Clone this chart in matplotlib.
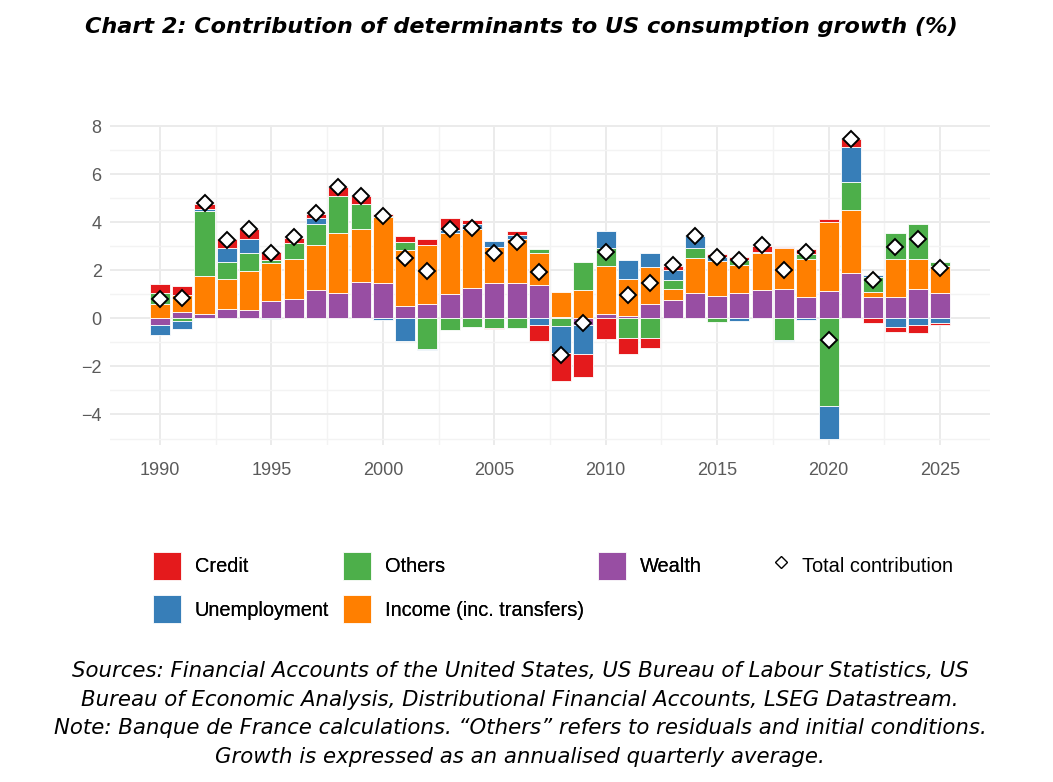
import matplotlib.pyplot as plt
import numpy as np
from matplotlib.patches import Patch
from matplotlib.lines import Line2D

years = np.arange(1990, 2026)

wealth = [-0.28, 0.28, 0.17, 0.38, 0.35, 0.74, 0.82, 1.19, 1.07, 1.53,
          1.46, 0.51, 0.58, 1.03, 1.26, 1.46, 1.46, 1.40, 0.07, -0.28,
          0.17, 0.10, 0.58, 0.76, 1.04, 0.93, 1.06, 1.18, 1.22, 0.89,
          1.13, 1.88, 0.89, 0.88, 1.22, 1.04]
income = [0.60, 0.69, 1.58, 1.24, 1.61, 1.57, 1.64, 1.86, 2.47, 2.18,
          2.74, 2.35, 2.49, 2.54, 2.47, 1.51, 1.83, 1.33, 1.01, 1.20,
          2.01, 1.54, 1.58, 0.47, 1.47, 1.44, 1.18, 1.53, 1.71, 1.57,
          2.88, 2.65, 0.21, 1.58, 1.24, 1.14]
others = [0.45, -0.11, 2.71, 0.74, 0.78, 0.14, 0.68, 0.89, 1.54, 1.04,
          0.07, 0.32, -1.28, -0.49, -0.35, -0.42, -0.42, 0.15, -0.33, 1.13,
          0.74, -0.82, -0.83, 0.36, 0.40, -0.17, 0.17, 0.00, -0.90, 0.24,
          -3.65, 1.15, 0.64, 1.11, 1.47, 0.17]
unemployment = [-0.40, -0.35, 0.11, 0.56, 0.56, -0.04, 0.00, 0.24, 0.00, 0.00,
                -0.05, -0.94, -0.04, 0.12, 0.21, 0.24, 0.19, -0.26, -1.10, -1.21,
                0.71, 0.78, 0.56, 0.43, 0.51, 0.17, -0.10, 0.07, -0.04, -0.08,
                -1.39, 1.46, 0.06, -0.36, -0.28, -0.21]
credit = [0.40, 0.39, 0.18, 0.37, 0.44, 0.32, 0.21, 0.18, 0.39, 0.33,
          0.07, 0.26, 0.22, 0.50, 0.15, -0.04, 0.14, -0.67, -1.18, -0.97,
          -0.85, -0.65, -0.39, 0.17, 0.00, 0.15, 0.14, 0.25, 0.04, 0.17,
          0.14, 0.32, -0.18, -0.22, -0.33, -0.06]
total = [0.79, 0.86, 4.79, 3.28, 3.74, 2.72, 3.38, 4.39, 5.49, 5.10,
         4.25, 2.51, 1.97, 3.72, 3.76, 2.74, 3.18, 1.93, -1.54, -0.18,
         2.78, 0.97, 1.49, 2.22, 3.43, 2.56, 2.43, 3.06, 2.01, 2.78,
         -0.92, 7.46, 1.58, 2.97, 3.32, 2.10]

# stacking order from zero outwards
stack = [
    ("Wealth", wealth, "#984EA3"),
    ("Income (inc. transfers)", income, "#FF7F00"),
    ("Others", others, "#4DAF4A"),
    ("Unemployment", unemployment, "#377EB8"),
    ("Credit", credit, "#E41A1C"),
]
colors = {name: col for name, _, col in stack}

W, H = 1053, 782
fig = plt.figure(figsize=(W / 100, H / 100), dpi=100)
ax = fig.add_axes([110 / W, 1 - 445 / H, 880 / W, 320 / H])

pos_base = np.zeros(len(years))
neg_base = np.zeros(len(years))
for name, vals, col in stack:
    v = np.array(vals, dtype=float)
    bottom = np.where(v >= 0, pos_base, neg_base)
    ax.bar(years, v, 0.9, bottom=bottom, color=col, edgecolor='white',
           linewidth=0.6, zorder=2)
    pos_base += np.clip(v, 0, None)
    neg_base += np.clip(v, None, 0)

ax.plot(years, total, linestyle='none', marker='D', markersize=8.5,
        markerfacecolor='white', markeredgecolor='black',
        markeredgewidth=1.4, zorder=3)

ax.set_xlim(1987.76, 2027.24)
ax.set_ylim(-5.27, 8.05)
ax.set_xticks(np.arange(1990, 2026, 5))
ax.set_xticks(np.arange(1992.5, 2025, 5), minor=True)
ax.set_yticks(np.arange(-4, 9, 2))
ax.set_yticks(np.arange(-5, 8, 2), minor=True)
ax.grid(which='major', color='#EBEBEB', linewidth=1.4, zorder=0)
ax.grid(which='minor', color='#F3F3F3', linewidth=1.0, zorder=0)
ax.set_axisbelow(True)
for s in ax.spines.values():
    s.set_visible(False)
ax.tick_params(which='both', length=0)
ax.tick_params(axis='x', pad=12, labelsize=13, labelcolor='#5A5A5A')
ax.tick_params(axis='y', pad=6, labelsize=13, labelcolor='#5A5A5A')
for lab in ax.get_xticklabels() + ax.get_yticklabels():
    lab.set_family('Liberation Sans')

# legends
leg_font = {'family': 'Liberation Sans', 'size': 14.4}
fill_order = ["Credit", "Unemployment", "Others", "Income (inc. transfers)", "Wealth"]
fill_handles = [Patch(facecolor=colors[n], edgecolor='white', linewidth=0.6) for n in fill_order]
leg1 = fig.legend(fill_handles, fill_order, ncol=3, loc='upper left',
                  bbox_to_anchor=(153 / W, 1 - 552 / H), frameon=False,
                  borderpad=0, borderaxespad=0, handlelength=1.4, handleheight=1.78,
                  handletextpad=0.7, columnspacing=0.7, labelspacing=0.75,
                  prop=leg_font)
fig.add_artist(leg1)
pt_handle = Line2D([], [], linestyle='none', marker='D', markersize=6.5,
                   markerfacecolor='white', markeredgecolor='black', markeredgewidth=1.0)
fig.legend([pt_handle], ["Total contribution"], loc='upper left',
           bbox_to_anchor=(768 / W, 1 - 552 / H), frameon=False,
           borderpad=0, borderaxespad=0, handlelength=1.3, handleheight=1.78,
           handletextpad=0.4, prop=leg_font)

fig.text(521 / W, 1 - 27 / H,
         "Chart 2: Contribution of determinants to US consumption growth (%)",
         ha='center', va='center', fontsize=16.1, fontweight='bold',
         fontstyle='italic', family='DejaVu Sans')

caption = ("Sources: Financial Accounts of the United States, US Bureau of Labour Statistics, US\n"
           "Bureau of Economic Analysis, Distributional Financial Accounts, LSEG Datastream.\n"
           "Note: Banque de France calculations. \u201cOthers\u201d refers to residuals and initial conditions.\n"
           "Growth is expressed as an annualised quarterly average.")
fig.text(520 / W, 1 - 714 / H, caption, ha='center', va='center',
         fontsize=15.3, fontstyle='italic', family='DejaVu Sans', linespacing=1.55)

fig.savefig('out.png', dpi=100)
